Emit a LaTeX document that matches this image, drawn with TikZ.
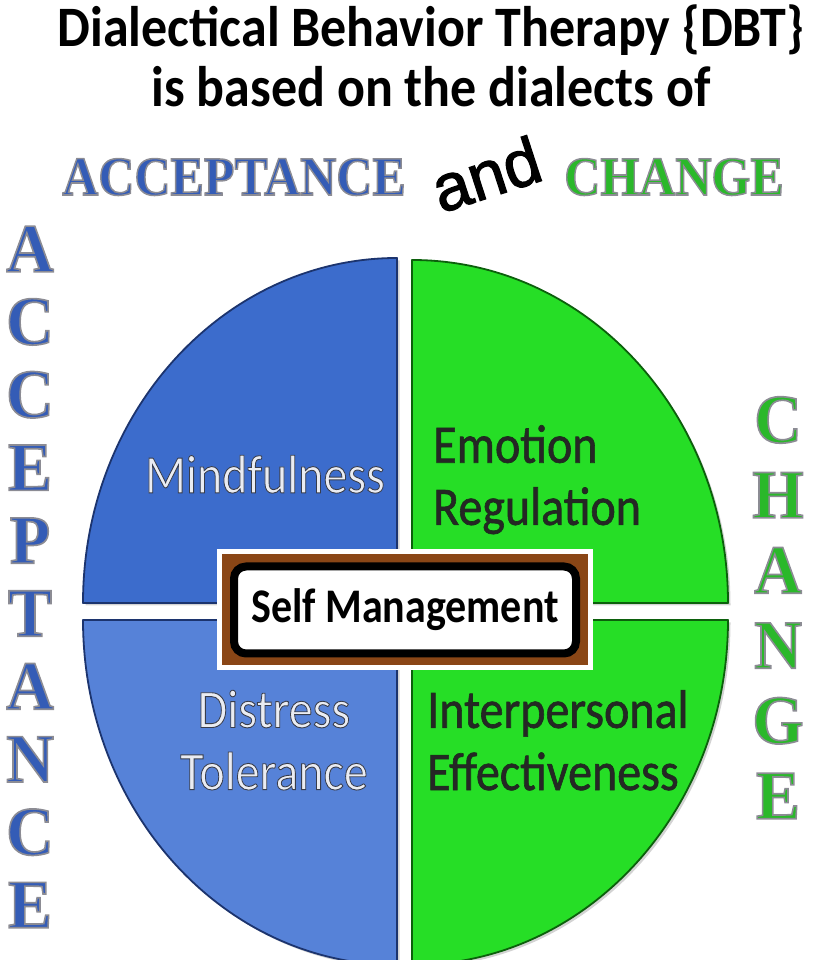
\documentclass[tikz,border=0pt]{standalone}
\usepackage{fontspec}
\setmainfont{Carlito}
\newfontfamily\headfont{Liberation Serif}
\newfontfamily\andfont{Liberation Sans}
\usetikzlibrary{positioning,calc,shadows}

\definecolor{qblue}{RGB}{60,108,204}
\definecolor{qbluelt}{RGB}{86,130,216}
\definecolor{qblueline}{RGB}{28,52,110}
\definecolor{qgreen}{RGB}{38,222,38}
\definecolor{qgreenline}{RGB}{12,96,12}
\definecolor{accblue}{RGB}{52,92,182}
\definecolor{chggreen}{RGB}{42,184,42}
\definecolor{boxbrown}{RGB}{138,70,22}
\definecolor{lbllight}{RGB}{234,236,242}

% glyphs filled in the text colour and stroked in another (width, rgb)
\newcommand{\outl}[3]{\special{pdf:literal direct 2 Tr #1 w #2 RG}#3\special{pdf:literal direct 0 Tr}}

\begin{document}
\begin{tikzpicture}[
    x=1pt, y=1pt,
    quad/.style={line width=1.8pt, line join=round, drop shadow={shadow xshift=2.5pt, shadow yshift=-2.5pt, opacity=0.35}},
    title/.style={font=\fontsize{52}{60}\selectfont\bfseries, inner sep=0pt, yscale=1.1},
    head/.style={font=\headfont\fontsize{50}{50}\selectfont\bfseries, inner sep=0pt, yscale=1.1},
    vletter/.style={font=\headfont\fontsize{66}{66}\selectfont\bfseries, inner sep=0pt, yscale=1.05},
    lbl/.style={font=\fontsize{48}{55}\selectfont, inner sep=0pt, yscale=1.13},
    selfbox/.style={draw=black, line width=8pt, fill=white, rounded corners=12pt, minimum width=342pt, minimum height=87pt, font=\fontsize{42}{42}\selectfont\bfseries, inner sep=0pt},
]
    \useasboundingbox (0,0) rectangle (819,960);

    % heading
    \node[title, anchor=base] (title1) at (431,913) {Dialectical Behavior Therapy \{DBT\}};
    \node[title, anchor=base] (title2) at (431,853) {is based on the dialects of};

    \node[head, text=accblue, anchor=base] (acchead) at (234,765) {\outl{1.4}{0.55 0.55 0.58}{ACCEPTANCE}};
    \node[font=\andfont\fontsize{66}{66}\selectfont, rotate=18, inner sep=0pt] (and) at (486,786) {\outl{1.2}{0 0 0}{and}};
    \node[head, text=chggreen, anchor=base] (chghead) at (674,765) {\outl{1.4}{0.55 0.55 0.58}{CHANGE}};

    % the four quadrants
    \path[quad, fill=qblue, draw=qblueline] (397,357) -- (397,702) arc[start angle=90, end angle=180, x radius=314, y radius=345] -- cycle;
    \path[quad, fill=qgreen, draw=qgreenline] (412,357) -- (728,357) arc[start angle=0, end angle=90, x radius=316, y radius=343] -- cycle;
    \path[quad, fill=qbluelt, draw=qblueline] (397,340) -- (83,340) arc[start angle=180, end angle=270, x radius=314, y radius=345] -- cycle;
    \path[quad, fill=qgreen, draw=qgreenline] (412,340) -- (412,-5) arc[start angle=270, end angle=360, x radius=316, y radius=345] -- cycle;

    \node[lbl, text=lbllight, anchor=north] (mind) at (265,505) {\outl{0.8}{0.22 0.24 0.3}{Mindfulness}};
    \node[lbl, text=black!85, anchor=north west, align=left] (emo) at (433,535) {\outl{0.6}{0.1 0.2 0.1}{Emotion}\\\outl{0.6}{0.1 0.2 0.1}{Regulation}};
    \node[lbl, text=lbllight, anchor=north, align=center] (dist) at (274,270) {\outl{0.8}{0.22 0.24 0.3}{Distress}\\\outl{0.8}{0.22 0.24 0.3}{Tolerance}};
    \node[lbl, text=black!85, anchor=north west, align=left] (inter) at (427,270) {\outl{0.6}{0.1 0.2 0.1}{Interpersonal}\\\outl{0.6}{0.1 0.2 0.1}{Effectiveness}};

    % centre box
    \coordinate (ctr) at (405,350);
    \fill[white] ($(ctr)+(-188,-60)$) rectangle ($(ctr)+(188,61)$);
    \fill[boxbrown] ($(ctr)+(-183,-55)$) rectangle ($(ctr)+(183,56)$);
    \node[selfbox] (self) at (ctr) {\scalebox{1}[1.15]{Self Management}};

    % vertical words
    \foreach \l [count=\i from 0] in {A,C,C,E,P,T,A,N,C,E}
        \node[vletter, text=accblue] (acc-\i) at (30,{711-72.9*\i}) {\outl{1.6}{0.55 0.55 0.58}{\l}};
    \foreach \l [count=\i from 0] in {C,H,A,N,G,E}
        \node[vletter, text=chggreen] (chg-\i) at (778,{540-75.2*\i}) {\outl{1.6}{0.55 0.55 0.58}{\l}};
\end{tikzpicture}
\end{document}
